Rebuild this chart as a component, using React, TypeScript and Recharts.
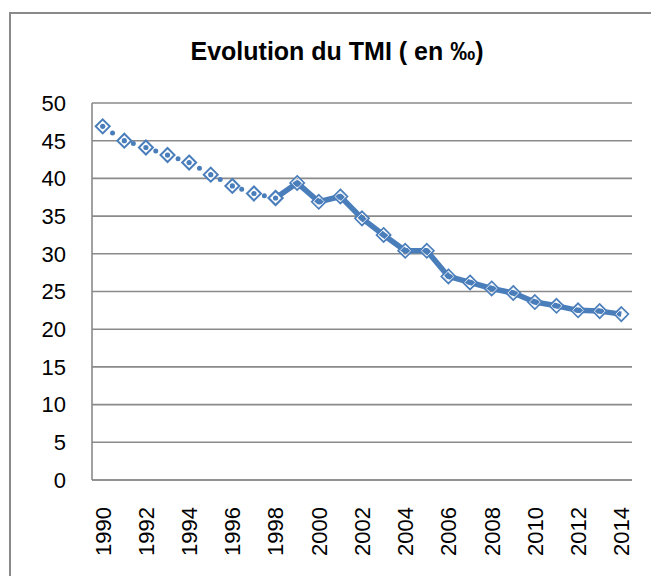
import { CartesianGrid, Line, LineChart, XAxis, YAxis } from 'recharts';

// Taux de mortalité infantile (pour 1000 naissances)
const years = [
    '1990', '1991', '1992', '1993', '1994', '1995', '1996', '1997', '1998', '1999',
    '2000', '2001', '2002', '2003', '2004', '2005', '2006', '2007', '2008', '2009',
    '2010', '2011', '2012', '2013', '2014',
];
// 1990-1998: série estimée (pointillés)
const tmiEstime = [46.9, 45, 44.1, 43.1, 42.1, 40.5, 39, 38, 37.4];
// 1998-2014: série observée (trait plein)
const tmiObserve = [
    37.4, 39.4, 36.9, 37.6, 34.7, 32.5, 30.4, 30.4, 27, 26.2, 25.4, 24.8, 23.6, 23.1, 22.5, 22.4, 22,
];
const yTicks = [0, 5, 10, 15, 20, 25, 30, 35, 40, 45, 50];

const startObserve = years.length - tmiObserve.length;
const data = years.map((year, i) => ({
    year,
    estime: i < tmiEstime.length ? tmiEstime[i] : null,
    observe: i >= startObserve ? tmiObserve[i - startObserve] : null,
}));

const BLUE = '#4a7ebb';
const GRID = '#8a8a8a';
const FONT = '"Liberation Sans", Arial, sans-serif';

const diamondPts = (cx: number, cy: number, r: number) =>
    `${cx},${cy - r} ${cx + r},${cy} ${cx},${cy + r} ${cx - r},${cy}`;

function Diamond(props: any) {
    const { cx, cy, withDot } = props;
    if (cx == null || cy == null) return null;
    if (withDot) {
        return (
            <g>
                <polygon points={diamondPts(cx, cy, 7)} fill="#fff" stroke={BLUE} strokeWidth={2} />
                <circle cx={cx} cy={cy} r={2.6} fill={BLUE} />
            </g>
        );
    }
    return (
        <g>
            <polygon points={diamondPts(cx, cy, 7)} fill="none" stroke={BLUE} strokeWidth={1.8} />
            <polygon points={diamondPts(cx, cy, 5.4)} fill="none" stroke="#dce6f2" strokeWidth={1} />
        </g>
    );
}

function YearTick(props: any) {
    const { x, y, payload } = props;
    return (
        <text
            x={x}
            y={y}
            transform={`rotate(-90, ${x}, ${y})`}
            textAnchor="end"
            dy="0.36em"
            fontSize={22}
            fontFamily={FONT}
            fill="#000"
        >
            {payload.value}
        </text>
    );
}

export default function App() {
    return (
        <div style={{ position: 'fixed', left: 0, top: 0, width: 651, height: 576, background: '#fff', overflow: 'hidden' }}>
            <div
                style={{
                    position: 'absolute',
                    left: 9,
                    top: 12,
                    width: 700,
                    height: 700,
                    borderTop: `2px solid ${GRID}`,
                    borderLeft: `2px solid ${GRID}`,
                }}
            />
            <div
                style={{
                    position: 'absolute',
                    left: 0,
                    top: 37,
                    width: 674,
                    textAlign: 'center',
                    fontFamily: FONT,
                    fontWeight: 'bold',
                    fontSize: 25,
                    color: '#000',
                }}
            >
                Evolution du TMI ( en ‰)
            </div>
            <div style={{ position: 'absolute', left: 0, top: 0 }}>
                <LineChart width={651} height={576} data={data} margin={{ top: 103, right: 19, bottom: 16, left: 0 }}>
                    <CartesianGrid vertical={false} stroke={GRID} strokeWidth={1.6} />
                    <XAxis
                        dataKey="year"
                        interval={1}
                        padding={{ left: 10.7, right: 10.7 }}
                        tickLine={false}
                        tickSize={0}
                        tickMargin={27}
                        height={80}
                        stroke={GRID}
                        strokeWidth={1.6}
                        tick={<YearTick />}
                    />
                    <YAxis
                        width={92}
                        domain={[0, 50]}
                        ticks={yTicks}
                        interval={0}
                        tickLine={false}
                        tickSize={0}
                        tickMargin={26}
                        stroke={GRID}
                        strokeWidth={1.6}
                        tick={{ fill: '#000', fontSize: 22, fontFamily: FONT }}
                    />
                    <Line
                        dataKey="observe"
                        stroke={BLUE}
                        strokeWidth={5.5}
                        strokeLinejoin="round"
                        dot={<Diamond />}
                        activeDot={false}
                        connectNulls={false}
                        isAnimationActive={false}
                    />
                    <Line
                        dataKey="estime"
                        stroke={BLUE}
                        strokeWidth={5}
                        strokeLinecap="round"
                        strokeDasharray="0 11.8"
                        dot={<Diamond withDot />}
                        activeDot={false}
                        connectNulls={false}
                        isAnimationActive={false}
                    />
                </LineChart>
            </div>
        </div>
    );
}
